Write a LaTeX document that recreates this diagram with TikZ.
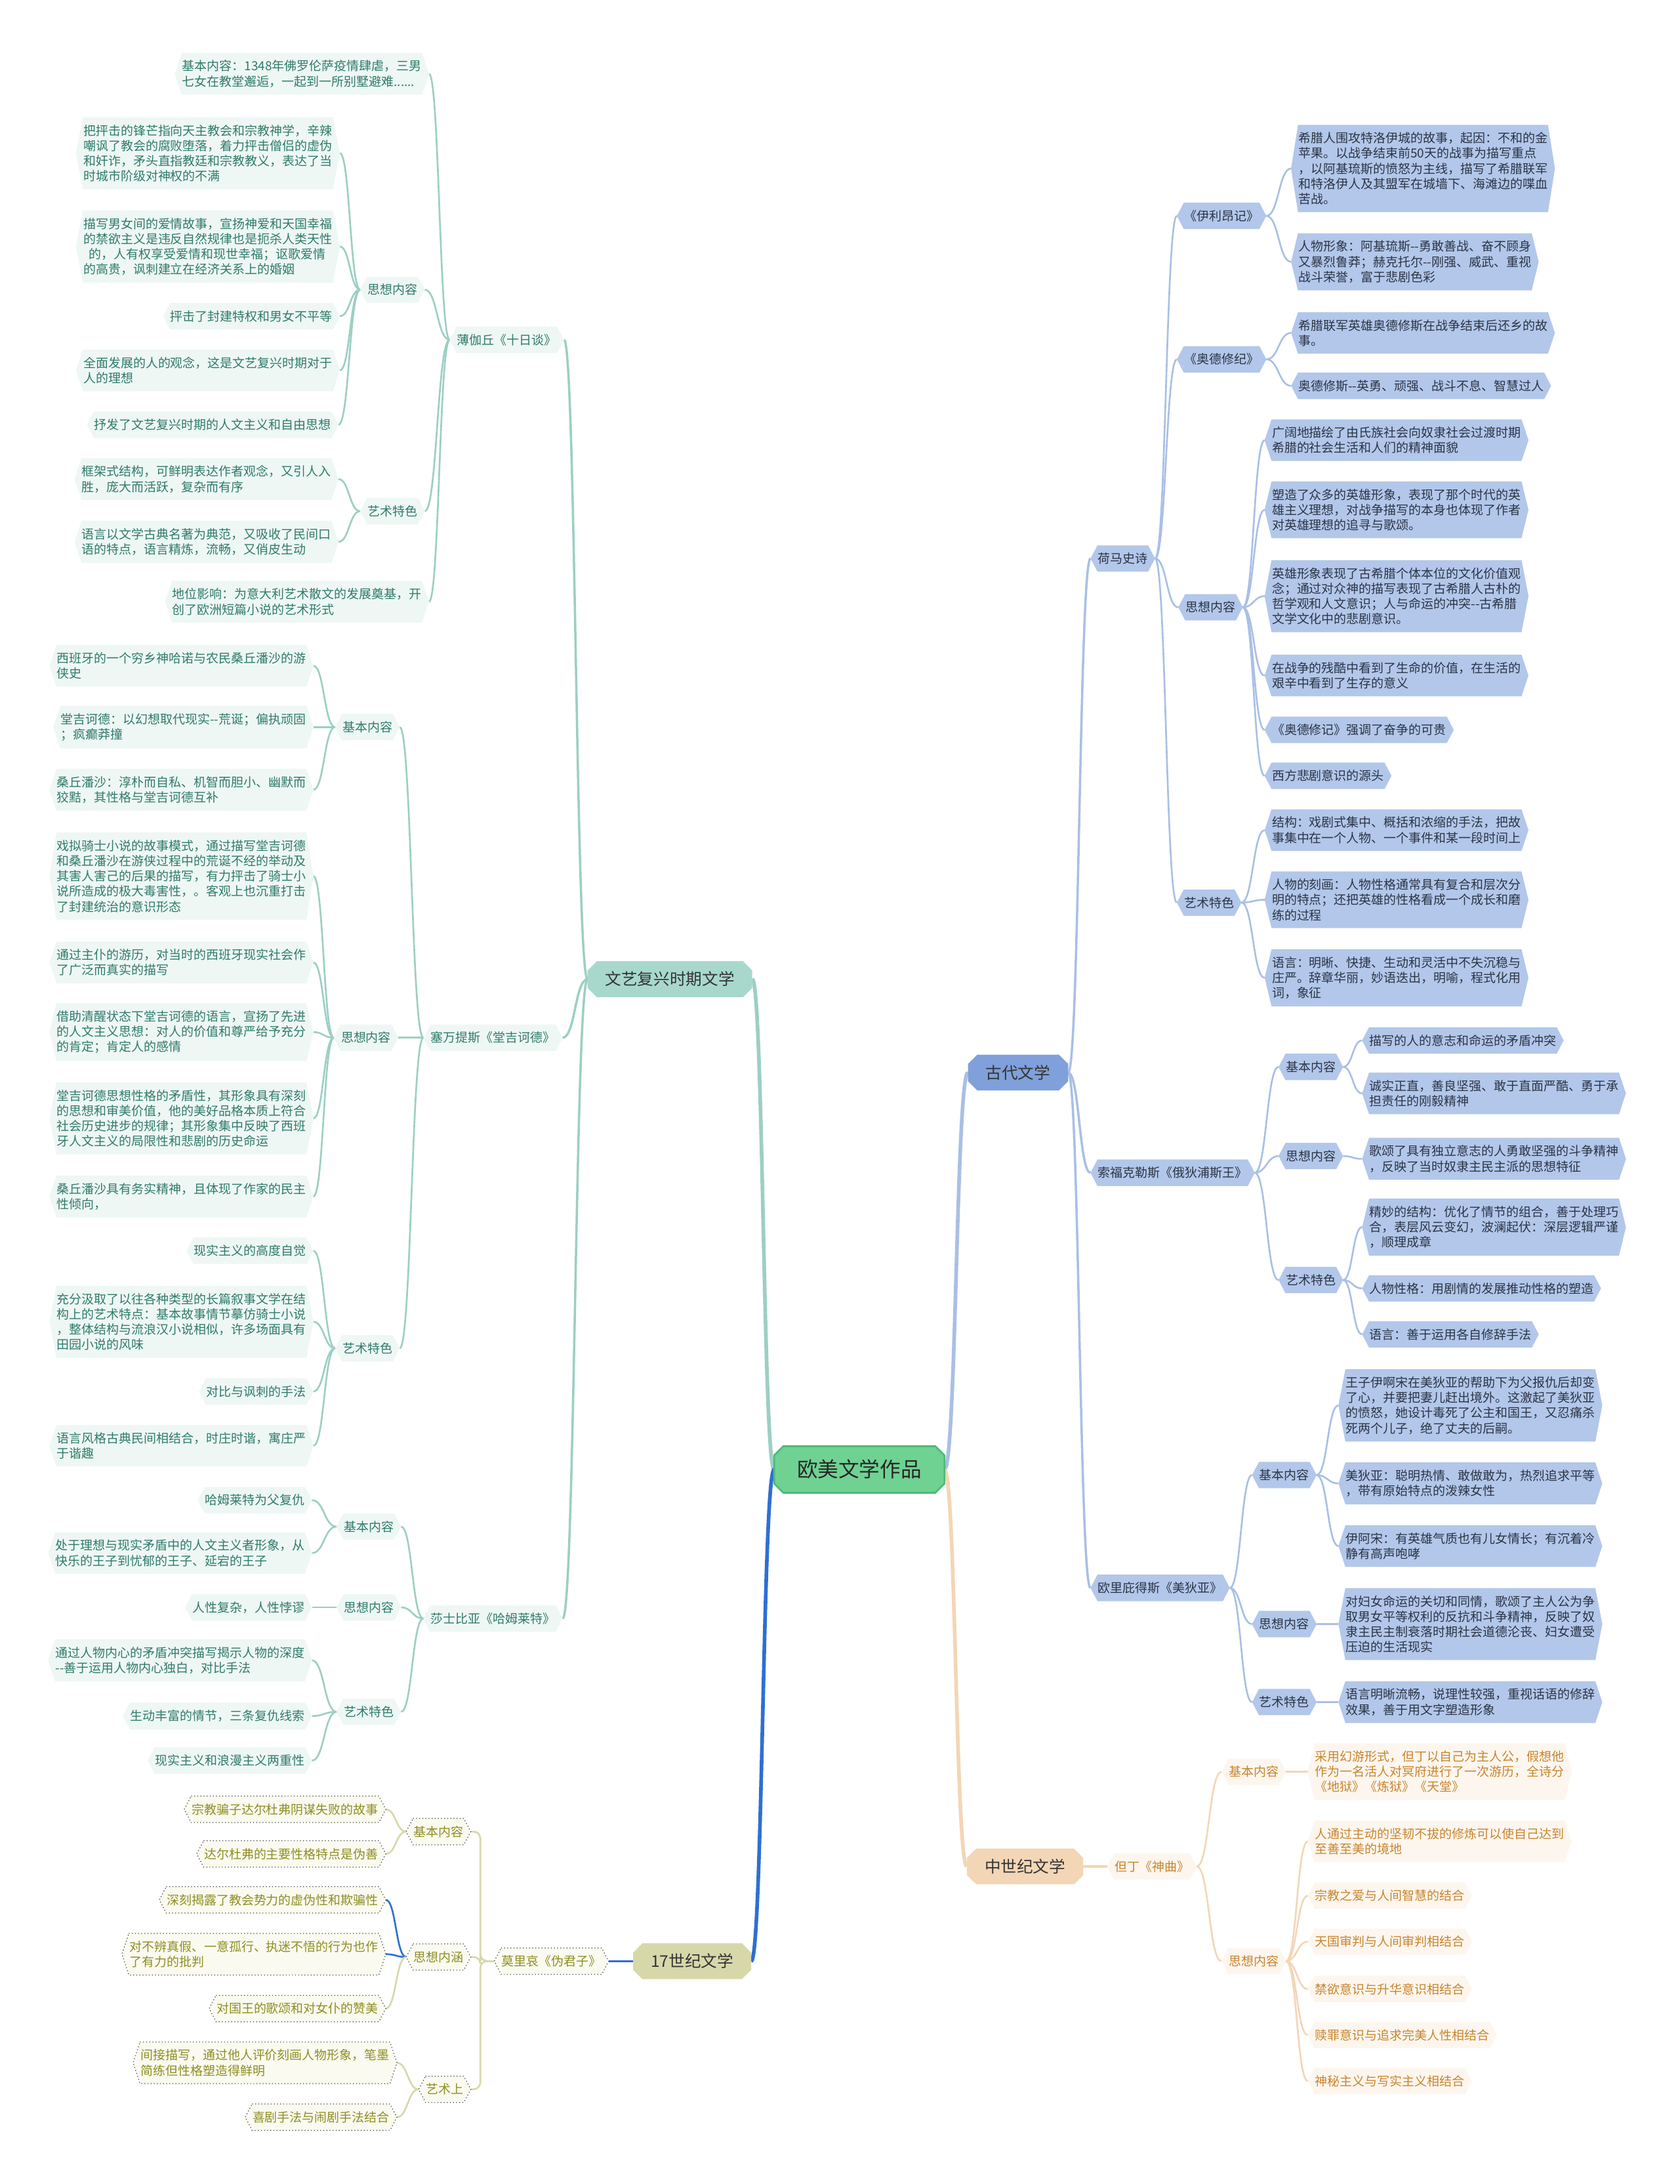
\documentclass[tikz,border=0pt]{standalone}
\usepackage{fontspec}
\setmainfont{Noto Sans CJK SC}
\usetikzlibrary{calc}
\pgfdeclarelayer{bg}
\pgfsetlayers{bg,main}
\definecolor{tMain}{HTML}{A8D8CC}
\definecolor{tLeaf}{HTML}{EEF7F4}
\definecolor{tText}{HTML}{2F7B6B}
\definecolor{tLine}{HTML}{9CCFC3}
\definecolor{bMain}{HTML}{7FA0DA}
\definecolor{bLeaf}{HTML}{B2C7EA}
\definecolor{bText}{HTML}{2B3445}
\definecolor{bLine}{HTML}{A9BFE5}
\definecolor{pMain}{HTML}{F3D6B6}
\definecolor{pLeaf}{HTML}{FDF6EE}
\definecolor{pText}{HTML}{C8842C}
\definecolor{pLine}{HTML}{F3D6B6}
\definecolor{oMain}{HTML}{D7D8AA}
\definecolor{oLeaf}{HTML}{FAFAF0}
\definecolor{oText}{HTML}{8E8E22}
\definecolor{oLine}{HTML}{D7D8AA}
\definecolor{rootFill}{HTML}{6FD293}
\definecolor{rootLine}{HTML}{4DBB77}
\definecolor{selBlue}{HTML}{2F6FD3}
\tikzset{
  lf/.style={inner xsep=3pt, inner ysep=3pt, align=left, font=\fontsize{5.4}{6.6}\selectfont},
  lfT/.style={lf, text=tText},
  lfB/.style={lf, text=bText},
  lfP/.style={lf, text=pText},
  lfO/.style={lf, text=oText},
  mainN/.style={inner xsep=7.5pt, inner ysep=4.3pt, font=\fontsize{7}{8}\selectfont, text=black!80},
  rootN/.style={inner xsep=9.7pt, inner ysep=5.7pt, font=\fontsize{9}{10}\selectfont, text=black!85},
  lk/.style={to path={let \p1=(\tikztostart), \p2=(\tikztotarget) in .. controls ({0.5*\x1+0.5*\x2},\y1) and ({0.5*\x1+0.5*\x2},\y2) .. (\tikztotarget)}},
  tl/.style={draw=tLine, line width=0.75pt},
  bl/.style={draw=bLine, line width=0.75pt},
  pl/.style={draw=pLine, line width=0.75pt},
  ol/.style={draw=oLine, line width=0.75pt},
  sl/.style={draw=selBlue, line width=0.75pt},
}
\begin{document}
\begin{tikzpicture}[x=0.021227cm,y=-0.021227cm]
\useasboundingbox (0,0) rectangle (1206,1568);

% ---------------- root and main branches
\node[rootN] (O) at (617,1055) {欧美文学作品};
\node[mainN] (R) at (481,703) {文艺复兴时期文学};
\node[mainN] (Q) at (497,1408) {17世纪文学};
\node[mainN] (A) at (731,770) {古代文学};
\node[mainN] (D) at (736,1340) {中世纪文学};

% ---------------- Boccaccio
\node[lfT,anchor=east] (B) at (405,244) {薄伽丘《十日谈》};
\node[lfT,anchor=east] (B1) at (308,53) {基本内容：1348年佛罗伦萨疫情肆虐，三男\\七女在教堂邂逅，一起到一所别墅避难......};
\node[lfT,anchor=east] (Bs) at (305,208) {思想内容};
\node[lfT,anchor=east] (Bs1) at (244,110) {把抨击的锋芒指向天主教会和宗教神学，辛辣\\嘲讽了教会的腐败堕落，着力抨击僧侣的虚伪\\和奸诈，矛头直指教廷和宗教教义，表达了当\\时城市阶级对神权的不满};
\node[lfT,anchor=east] (Bs2) at (244,177) {描写男女间的爱情故事，宣扬神爱和天国幸福\\的禁欲主义是违反自然规律也是扼杀人类天性\\\hspace*{2.5pt}的，人有权享受爱情和现世幸福；讴歌爱情\\的高贵，讽刺建立在经济关系上的婚姻};
\node[lfT,anchor=east] (Bs3) at (244,227) {抨击了封建特权和男女不平等};
\node[lfT,anchor=east] (Bs4) at (244,266) {全面发展的人的观念，这是文艺复兴时期对于\\人的理想};
\node[lfT,anchor=east] (Bs5) at (243,305) {抒发了文艺复兴时期的人文主义和自由思想};
\node[lfT,anchor=east] (Ba) at (305,367) {艺术特色};
\node[lfT,anchor=east] (Ba1) at (243,344) {框架式结构，可鲜明表达作者观念，又引人入\\胜，庞大而活跃，复杂而有序};
\node[lfT,anchor=east] (Ba2) at (243,389) {语言以文学古典名著为典范，又吸收了民间口\\语的特点，语言精炼，流畅，又俏皮生动};
\node[lfT,anchor=east] (B4) at (308,432) {地位影响：为意大利艺术散文的发展奠基，开\\创了欧洲短篇小说的艺术形式};

% ---------------- Cervantes
\node[lfT,anchor=east] (C) at (404,745) {塞万提斯《堂吉诃德》};
\node[lfT,anchor=east] (Cj) at (287,522) {基本内容};
\node[lfT,anchor=east] (Cj1) at (225,478) {西班牙的一个穷乡神哈诺与农民桑丘潘沙的游\\侠史};
\node[lfT,anchor=east] (Cj2) at (225,522) {堂吉诃德：以幻想取代现实-{}-荒诞；偏执顽固\\；疯癫莽撞};
\node[lfT,anchor=east] (Cj3) at (225,567) {桑丘潘沙：淳朴而自私、机智而胆小、幽默而\\狡黠，其性格与堂吉诃德互补};
\node[lfT,anchor=east] (Cs) at (286,745) {思想内容};
\node[lfT,anchor=east] (Cs1) at (225,629) {戏拟骑士小说的故事模式，通过描写堂吉诃德\\和桑丘潘沙在游侠过程中的荒诞不经的举动及\\其害人害己的后果的描写，有力抨击了骑士小\\说所造成的极大毒害性，。客观上也沉重打击\\了封建统治的意识形态};
\node[lfT,anchor=east] (Cs2) at (225,691) {通过主仆的游历，对当时的西班牙现实社会作\\了广泛而真实的描写};
\node[lfT,anchor=east] (Cs3) at (225,741) {借助清醒状态下堂吉诃德的语言，宣扬了先进\\的人文主义思想：对人的价值和尊严给予充分\\的肯定；肯定人的感情};
\node[lfT,anchor=east] (Cs4) at (225,803) {堂吉诃德思想性格的矛盾性，其形象具有深刻\\的思想和审美价值，他的美好品格本质上符合\\社会历史进步的规律；其形象集中反映了西班\\牙人文主义的局限性和悲剧的历史命运};
\node[lfT,anchor=east] (Cs5) at (225,859) {桑丘潘沙具有务实精神，且体现了作家的民主\\性倾向，};
\node[lfT,anchor=east] (Ca) at (287,968) {艺术特色};
\node[lfT,anchor=east] (Ca1) at (225,898) {现实主义的高度自觉};
\node[lfT,anchor=east] (Ca2) at (225,949) {充分汲取了以往各种类型的长篇叙事文学在结\\构上的艺术特点：基本故事情节摹仿骑士小说\\，整体结构与流浪汉小说相似，许多场面具有\\田园小说的风味};
\node[lfT,anchor=east] (Ca3) at (225,999) {对比与讽刺的手法};
\node[lfT,anchor=east] (Ca4) at (225,1038) {语言风格古典民间相结合，时庄时谐，寓庄严\\于谐趣};

% ---------------- Shakespeare
\node[lfT,anchor=east] (S) at (404,1162) {莎士比亚《哈姆莱特》};
\node[lfT,anchor=east] (Sj) at (288,1096) {基本内容};
\node[lfT,anchor=east] (Sj1) at (224,1077) {哈姆莱特为父复仇};
\node[lfT,anchor=east] (Sj2) at (224,1115) {处于理想与现实矛盾中的人文主义者形象，从\\快乐的王子到忧郁的王子、延宕的王子};
\node[lfT,anchor=east] (Ss) at (288,1154) {思想内容};
\node[lfT,anchor=east] (Ss1) at (224,1154) {人性复杂，人性悖谬};
\node[lfT,anchor=east] (Sa) at (288,1229) {艺术特色};
\node[lfT,anchor=east] (Sa1) at (224,1192) {通过人物内心的矛盾冲突描写揭示人物的深度\\-{}-善于运用人物内心独白，对比手法};
\node[lfT,anchor=east] (Sa2) at (224,1232) {生动丰富的情节，三条复仇线索};
\node[lfT,anchor=east] (Sa3) at (224,1264) {现实主义和浪漫主义两重性};

% ---------------- 17th century
\node[lfO,anchor=east] (M) at (437,1408) {莫里哀《伪君子》};
\node[lfO,anchor=east] (Mj) at (338,1315) {基本内容};
\node[lfO,anchor=east] (Mj1) at (277,1299) {宗教骗子达尔杜弗阴谋失败的故事};
\node[lfO,anchor=east] (Mj2) at (277,1331) {达尔杜弗的主要性格特点是伪善};
\node[lfO,anchor=east] (Ms) at (338,1405) {思想内涵};
\node[lfO,anchor=east] (Ms1) at (277,1364) {深刻揭露了教会势力的虚伪性和欺骗性};
\node[lfO,anchor=east] (Ms2) at (277,1403) {对不辨真假、一意孤行、执迷不悟的行为也作\\了有力的批判};
\node[lfO,anchor=east] (Ms3) at (277,1442) {对国王的歌颂和对女仆的赞美};
\node[lfO,anchor=east] (Ma) at (338,1500) {艺术上};
\node[lfO,anchor=east] (Ma1) at (285,1481) {间接描写，通过他人评价刻画人物形象，笔墨\\简练但性格塑造得鲜明};
\node[lfO,anchor=east] (Ma2) at (285,1520) {喜剧手法与闹剧手法结合};

% ---------------- Ancient
\node[lfB,anchor=west] (H) at (783,401) {荷马史诗};
\node[lfB,anchor=west] (Hi) at (845,155) {《伊利昂记》};
\node[lfB,anchor=west] (Hi1) at (927,121) {希腊人围攻特洛伊城的故事，起因：不和的金\\苹果。以战争结束前50天的战事为描写重点\\，以阿基琉斯的愤怒为主线，描写了希腊联军\\和特洛伊人及其盟军在城墙下、海滩边的喋血\\苦战。};
\node[lfB,anchor=west] (Hi2) at (927,188) {人物形象：阿基琉斯-{}-勇敢善战、奋不顾身\\又暴烈鲁莽；赫克托尔-{}-刚强、威武、重视\\战斗荣誉，富于悲剧色彩};
\node[lfB,anchor=west] (Ho) at (845,258) {《奥德修纪》};
\node[lfB,anchor=west] (Ho1) at (927,239) {希腊联军英雄奥德修斯在战争结束后还乡的故\\事。};
\node[lfB,anchor=west] (Ho2) at (927,277) {奥德修斯-{}-英勇、顽强、战斗不息、智慧过人};
\node[lfB,anchor=west] (Hs) at (846,436) {思想内容};
\node[lfB,anchor=west] (Hs1) at (908,316) {广阔地描绘了由氏族社会向奴隶社会过渡时期\\希腊的社会生活和人们的精神面貌};
\node[lfB,anchor=west] (Hs2) at (908,366) {塑造了众多的英雄形象，表现了那个时代的英\\雄主义理想，对战争描写的本身也体现了作者\\对英雄理想的追寻与歌颂。};
\node[lfB,anchor=west] (Hs3) at (908,428) {英雄形象表现了古希腊个体本位的文化价值观\\念；通过对众神的描写表现了古希腊人古朴的\\哲学观和人文意识；人与命运的冲突-{}-古希腊\\文学文化中的悲剧意识。};
\node[lfB,anchor=west] (Hs4) at (908,485) {在战争的残酷中看到了生命的价值，在生活的\\艰辛中看到了生存的意义};
\node[lfB,anchor=west] (Hs5) at (908,524) {《奥德修记》强调了奋争的可贵};
\node[lfB,anchor=west] (Hs6) at (908,557) {西方悲剧意识的源头};
\node[lfB,anchor=west] (Ha) at (845,648) {艺术特色};
\node[lfB,anchor=west] (Ha1) at (908,596) {结构：戏剧式集中、概括和浓缩的手法，把故\\事集中在一个人物、一个事件和某一段时间上};
\node[lfB,anchor=west] (Ha2) at (908,646) {人物的刻画：人物性格通常具有复合和层次分\\明的特点；还把英雄的性格看成一个成长和磨\\练的过程};
\node[lfB,anchor=west] (Ha3) at (908,702) {语言：明晰、快捷、生动和灵活中不失沉稳与\\庄严。辞章华丽，妙语迭出，明喻，程式化用\\词，象征};

\node[lfB,anchor=west] (F) at (783,842) {索福克勒斯《俄狄浦斯王》};
\node[lfB,anchor=west] (Fj) at (918,766) {基本内容};
\node[lfB,anchor=west] (Fj1) at (978,747) {描写的人的意志和命运的矛盾冲突};
\node[lfB,anchor=west] (Fj2) at (978,785) {诚实正直，善良坚强、敢于直面严酷、勇于承\\担责任的刚毅精神};
\node[lfB,anchor=west] (Fs) at (918,830) {思想内容};
\node[lfB,anchor=west] (Fs1) at (978,832) {歌颂了具有独立意志的人勇敢坚强的斗争精神\\，反映了当时奴隶主民主派的思想特征};
\node[lfB,anchor=west] (Fa) at (918,919) {艺术特色};
\node[lfB,anchor=west] (Fa1) at (978,881) {精妙的结构：优化了情节的组合，善于处理巧\\合，表层风云变幻，波澜起伏：深层逻辑严谨\\，顺理成章};
\node[lfB,anchor=west] (Fa2) at (978,925) {人物性格：用剧情的发展推动性格的塑造};
\node[lfB,anchor=west] (Fa3) at (978,958) {语言：善于运用各自修辞手法};

\node[lfB,anchor=west] (E) at (783,1140) {欧里庇得斯《美狄亚》};
\node[lfB,anchor=west] (Ej) at (899,1059) {基本内容};
\node[lfB,anchor=west] (Ej1) at (961,1009) {王子伊啊宋在美狄亚的帮助下为父报仇后却变\\了心，并要把妻儿赶出境外。这激起了美狄亚\\的愤怒，她设计毒死了公主和国王，又忍痛杀\\死两个儿子，绝了丈夫的后嗣。};
\node[lfB,anchor=west] (Ej2) at (961,1065) {美狄亚：聪明热情、敢做敢为，热烈追求平等\\，带有原始特点的泼辣女性};
\node[lfB,anchor=west] (Ej3) at (961,1110) {伊阿宋：有英雄气质也有儿女情长；有沉着冷\\静有高声咆哮};
\node[lfB,anchor=west] (Es) at (899,1166) {思想内容};
\node[lfB,anchor=west] (Es1) at (961,1166) {对妇女命运的关切和同情，歌颂了主人公为争\\取男女平等权利的反抗和斗争精神，反映了奴\\隶主民主制衰落时期社会道德沦丧、妇女遭受\\压迫的生活现实};
\node[lfB,anchor=west] (Ea) at (899,1222) {艺术特色};
\node[lfB,anchor=west] (Ea1) at (961,1222) {语言明晰流畅，说理性较强，重视话语的修辞\\效果，善于用文字塑造形象};

% ---------------- Medieval
\node[lfP,anchor=west] (Dn) at (795,1340) {但丁《神曲》};
\node[lfP,anchor=west] (Dj) at (877,1272) {基本内容};
\node[lfP,anchor=west] (Dj1) at (939,1272) {采用幻游形式，但丁以自己为主人公，假想他\\作为一名活人对冥府进行了一次游历，全诗分\\《地狱》《炼狱》《天堂》};
\node[lfP,anchor=west] (Ds) at (877,1408) {思想内容};
\node[lfP,anchor=west] (Ds1) at (939,1322) {人通过主动的坚韧不拔的修炼可以使自己达到\\至善至美的境地};
\node[lfP,anchor=west] (Ds2) at (939,1361) {宗教之爱与人间智慧的结合};
\node[lfP,anchor=west] (Ds3) at (939,1394) {天国审判与人间审判相结合};
\node[lfP,anchor=west] (Ds4) at (939,1428) {禁欲意识与升华意识相结合};
\node[lfP,anchor=west] (Ds5) at (939,1461) {赎罪意识与追求完美人性相结合};
\node[lfP,anchor=west] (Ds6) at (939,1494) {神秘主义与写实主义相结合};

\begin{pgfonlayer}{bg}
\fill[white] (0,0) rectangle (1206,1568);
% ---- connectors
\draw[draw=tLine, line width=1.6pt] (O.west) to[lk] (R.east);
\draw[draw=selBlue, line width=1.6pt] (O.west) to[lk] (Q.east);
\draw[draw=bLine, line width=1.6pt] (O.east) to[lk] (A.west);
\draw[draw=pLine, line width=1.6pt] (O.east) to[lk] (D.west);

\foreach \c in {B,C,S} \draw[tl, line width=1pt] (R.west) to[lk] (\c.east);
\foreach \c in {B1,Bs,Ba,B4} \draw[tl] (B.west) to[lk] (\c.east);
\foreach \c in {Bs1,Bs2,Bs3,Bs4,Bs5} \draw[tl] (Bs.west) to[lk] (\c.east);
\foreach \c in {Ba1,Ba2} \draw[tl] (Ba.west) to[lk] (\c.east);
\foreach \c in {Cj,Cs,Ca} \draw[tl] (C.west) to[lk] (\c.east);
\foreach \c in {Cj1,Cj2,Cj3} \draw[tl] (Cj.west) to[lk] (\c.east);
\foreach \c in {Cs1,Cs2,Cs3,Cs4,Cs5} \draw[tl] (Cs.west) to[lk] (\c.east);
\foreach \c in {Ca1,Ca2,Ca3,Ca4} \draw[tl] (Ca.west) to[lk] (\c.east);
\foreach \c in {Sj,Ss,Sa} \draw[tl] (S.west) to[lk] (\c.east);
\foreach \c in {Sj1,Sj2} \draw[tl] (Sj.west) to[lk] (\c.east);
\draw[tl] (Ss.west) to[lk] (Ss1.east);
\foreach \c in {Sa1,Sa2,Sa3} \draw[tl] (Sa.west) to[lk] (\c.east);

\draw[sl, line width=1pt] (Q.west) -- (M.east);
\foreach \c in {Mj,Ms,Ma} \draw[ol, rounded corners=3pt] (M.west) -- ++(-10,0) |- (\c.east);
\foreach \c in {Mj1,Mj2} \draw[ol] (Mj.west) to[lk] (\c.east);
\foreach \c in {Ms1,Ms2} \draw[sl] (Ms.west) to[lk] (\c.east);
\draw[ol] (Ms.west) to[lk] (Ms3.east);
\foreach \c in {Ma1,Ma2} \draw[ol] (Ma.west) to[lk] (\c.east);

\foreach \c in {H,F,E} \draw[bl, line width=1pt] (A.east) to[lk] (\c.west);
\foreach \c in {Hi,Ho,Hs,Ha} \draw[bl] (H.east) to[lk] (\c.west);
\foreach \c in {Hi1,Hi2} \draw[bl] (Hi.east) to[lk] (\c.west);
\foreach \c in {Ho1,Ho2} \draw[bl] (Ho.east) to[lk] (\c.west);
\foreach \c in {Hs1,Hs2,Hs3,Hs4,Hs5,Hs6} \draw[bl] (Hs.east) to[lk] (\c.west);
\foreach \c in {Ha1,Ha2,Ha3} \draw[bl] (Ha.east) to[lk] (\c.west);
\foreach \c in {Fj,Fs,Fa} \draw[bl] (F.east) to[lk] (\c.west);
\foreach \c in {Fj1,Fj2} \draw[bl] (Fj.east) to[lk] (\c.west);
\draw[bl] (Fs.east) to[lk] (Fs1.west);
\foreach \c in {Fa1,Fa2,Fa3} \draw[bl] (Fa.east) to[lk] (\c.west);
\foreach \c in {Ej,Es,Ea} \draw[bl] (E.east) to[lk] (\c.west);
\foreach \c in {Ej1,Ej2,Ej3} \draw[bl] (Ej.east) to[lk] (\c.west);
\draw[bl] (Es.east) to[lk] (Es1.west);
\draw[bl] (Ea.east) to[lk] (Ea1.west);

\draw[pl, line width=1pt] (D.east) to[lk] (Dn.west);
\foreach \c in {Dj,Ds} \draw[pl] (Dn.east) to[lk] (\c.west);
\draw[pl] (Dj.east) to[lk] (Dj1.west);
\foreach \c in {Ds1,Ds2,Ds3,Ds4,Ds5,Ds6} \draw[pl] (Ds.east) to[lk] (\c.west);

% ---- hexagon leaves
\foreach \n/\f in {B/tLeaf,B1/tLeaf,Bs/tLeaf,Bs1/tLeaf,Bs2/tLeaf,Bs3/tLeaf,Bs4/tLeaf,Bs5/tLeaf,Ba/tLeaf,Ba1/tLeaf,Ba2/tLeaf,B4/tLeaf,
  C/tLeaf,Cj/tLeaf,Cj1/tLeaf,Cj2/tLeaf,Cj3/tLeaf,Cs/tLeaf,Cs1/tLeaf,Cs2/tLeaf,Cs3/tLeaf,Cs4/tLeaf,Cs5/tLeaf,Ca/tLeaf,Ca1/tLeaf,Ca2/tLeaf,Ca3/tLeaf,Ca4/tLeaf,
  S/tLeaf,Sj/tLeaf,Sj1/tLeaf,Sj2/tLeaf,Ss/tLeaf,Ss1/tLeaf,Sa/tLeaf,Sa1/tLeaf,Sa2/tLeaf,Sa3/tLeaf,
  H/bLeaf,Hi/bLeaf,Hi1/bLeaf,Hi2/bLeaf,Ho/bLeaf,Ho1/bLeaf,Ho2/bLeaf,Hs/bLeaf,Hs1/bLeaf,Hs2/bLeaf,Hs3/bLeaf,Hs4/bLeaf,Hs5/bLeaf,Hs6/bLeaf,Ha/bLeaf,Ha1/bLeaf,Ha2/bLeaf,Ha3/bLeaf,
  F/bLeaf,Fj/bLeaf,Fj1/bLeaf,Fj2/bLeaf,Fs/bLeaf,Fs1/bLeaf,Fa/bLeaf,Fa1/bLeaf,Fa2/bLeaf,Fa3/bLeaf,
  E/bLeaf,Ej/bLeaf,Ej1/bLeaf,Ej2/bLeaf,Ej3/bLeaf,Es/bLeaf,Es1/bLeaf,Ea/bLeaf,Ea1/bLeaf,
  Dn/pLeaf,Dj/pLeaf,Dj1/pLeaf,Ds/pLeaf,Ds1/pLeaf,Ds2/pLeaf,Ds3/pLeaf,Ds4/pLeaf,Ds5/pLeaf,Ds6/pLeaf}
  {\fill[\f] ([xshift=3pt]\n.north west) -- ([xshift=-3pt]\n.north east) -- (\n.east) -- ([xshift=-3pt]\n.south east) -- ([xshift=3pt]\n.south west) -- (\n.west) -- cycle;}
\foreach \n in {M,Mj,Mj1,Mj2,Ms,Ms1,Ms2,Ms3,Ma,Ma1,Ma2}
  {\filldraw[fill=oLeaf, draw=black!75, densely dotted, line width=0.35pt] ([xshift=3pt]\n.north west) -- ([xshift=-3pt]\n.north east) -- (\n.east) -- ([xshift=-3pt]\n.south east) -- ([xshift=3pt]\n.south west) -- (\n.west) -- cycle;}
% ---- octagon main nodes
\foreach \n/\f in {R/tMain,Q/oMain,A/bMain,D/pMain}
  {\fill[\f] ([xshift=4pt]\n.north west) -- ([xshift=-4pt]\n.north east) -- ([yshift=-4pt]\n.north east) -- ([yshift=4pt]\n.south east) -- ([xshift=-4pt]\n.south east) -- ([xshift=4pt]\n.south west) -- ([yshift=4pt]\n.south west) -- ([yshift=-4pt]\n.north west) -- cycle;}
\filldraw[fill=rootFill, draw=rootLine, line width=0.8pt] ([xshift=4pt]O.north west) -- ([xshift=-4pt]O.north east) -- ([yshift=-4pt]O.north east) -- ([yshift=4pt]O.south east) -- ([xshift=-4pt]O.south east) -- ([xshift=4pt]O.south west) -- ([yshift=4pt]O.south west) -- ([yshift=-4pt]O.north west) -- cycle;
\end{pgfonlayer}
\end{tikzpicture}
\end{document}
